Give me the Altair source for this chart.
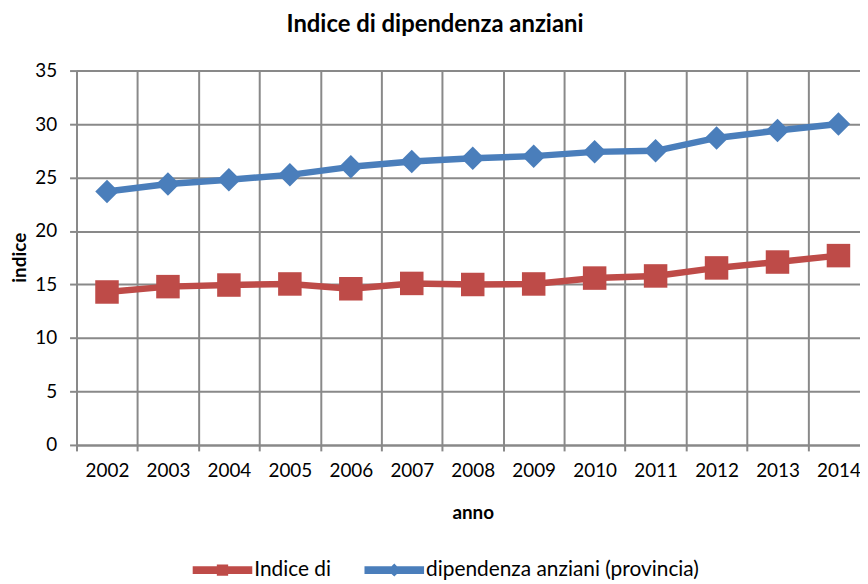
import altair as alt
import pandas as pd

years = ["2002", "2003", "2004", "2005", "2006", "2007", "2008",
         "2009", "2010", "2011", "2012", "2013", "2014"]
series_names = ["Indice di", "dipendenza anziani (provincia)"]
indice_di = [14.3, 14.8, 14.95, 15.05, 14.6, 15.1, 15.0, 15.05, 15.6, 15.8, 16.55, 17.1, 17.7]
provincia = [23.7, 24.4, 24.8, 25.25, 26.0, 26.5, 26.8, 27.0, 27.4, 27.5, 28.7, 29.4, 30.0]
y_ticks = [0, 5, 10, 15, 20, 25, 30, 35]
colors = ["#BE4B48", "#4A7EBB"]

rows = []
for name, vals in zip(series_names, [indice_di, provincia]):
    for yr, v in zip(years, vals):
        rows.append({"anno": yr, "indice": v, "serie": name})
df = pd.DataFrame(rows)

FONT = "Lato"
GRID = "#898989"

# legend symbols: line with marker (square for first, diamond for second)
sq_path = "M-1,-0.13 H-0.19 V-0.19 H0.19 V-0.13 H1 V0.13 H0.19 V0.19 H-0.19 V0.13 H-1 Z"
di_path = "M-1,-0.13 H-0.09 L0,-0.22 L0.09,-0.13 H1 V0.13 H0.09 L0,0.22 L-0.09,0.13 H-1 Z"
shape_expr = "datum.value == 'Indice di' ? '" + sq_path + "' : '" + di_path + "'"

color_scale = alt.Scale(domain=series_names, range=colors)

x_enc = alt.X(
    "anno:O", sort=years,
    scale=alt.Scale(type="band", paddingInner=0, paddingOuter=0),
    axis=alt.Axis(
        title="anno", tickBand="extent", grid=True, labelAngle=0,
        labelFont=FONT, labelFontSize=19, labelColor="#000000", labelPadding=20,
        labelBaseline="middle",
        titleFont=FONT, titleFontSize=19, titleFontWeight="bold", titleColor="#000000",
        titleY=68, titleBaseline="middle",
        tickSize=6, tickColor=GRID, tickWidth=2,
        domainColor=GRID, domainWidth=2, gridColor=GRID, gridWidth=2,
    ),
)
y_enc = alt.Y(
    "indice:Q",
    scale=alt.Scale(domain=[0, 35], nice=False, zero=True),
    axis=alt.Axis(
        title="indice", values=y_ticks, grid=True,
        labelFont=FONT, labelFontSize=19, labelColor="#000000", labelPadding=13,
        titleFont=FONT, titleFontSize=19, titleFontWeight="bold", titleColor="#000000",
        titleX=-57, titleY=188, titleAngle=270, titleAlign="center", titleBaseline="middle",
        tickSize=7, tickColor=GRID, tickWidth=2,
        domainColor=GRID, domainWidth=2, gridColor=GRID, gridWidth=2,
    ),
)

lines = alt.Chart(df).mark_line(strokeWidth=6.5, strokeJoin="round").encode(
    x=x_enc, y=y_enc,
    color=alt.Color(
        "serie:N", scale=color_scale, sort=series_names,
        legend=alt.Legend(
            title=None, orient="none", direction="horizontal",
            legendX=117, legendY=473, padding=0,
            symbolSize=3600, symbolType=alt.ExprRef(shape_expr), symbolStrokeWidth=0,
            labelFont=FONT, labelFontSize=21, labelColor="#000000", labelLimit=0,
            labelOffset=2, columnPadding=33,
        ),
    ),
)

pts_sq = alt.Chart(df[df["serie"] == series_names[0]]).mark_point(
    shape="square", size=560, filled=True, opacity=1
).encode(
    x=x_enc, y=y_enc,
    color=alt.Color("serie:N", scale=color_scale, legend=None),
)
pts_di = alt.Chart(df[df["serie"] == series_names[1]]).mark_point(
    shape="diamond", size=560, filled=True, opacity=1
).encode(
    x=x_enc, y=y_enc,
    color=alt.Color("serie:N", scale=color_scale, legend=None),
)

chart = alt.layer(lines, pts_sq, pts_di).properties(
    width=798, height=377,
    title=alt.TitleParams(
        "Indice di dipendenza anziani", font=FONT, fontSize=24, fontWeight="bold",
        color="#000000", anchor="middle", frame="group", dx=-38,
        baseline="alphabetic", offset=6,
    ),
    autosize=alt.AutoSizeParams(type="none"),
    padding={"left": 69, "top": 61, "right": -9, "bottom": 134},
).configure_view(stroke=None).configure(background="#ffffff")

chart.save("out.html", embed_options={"renderer": "svg", "actions": False})
